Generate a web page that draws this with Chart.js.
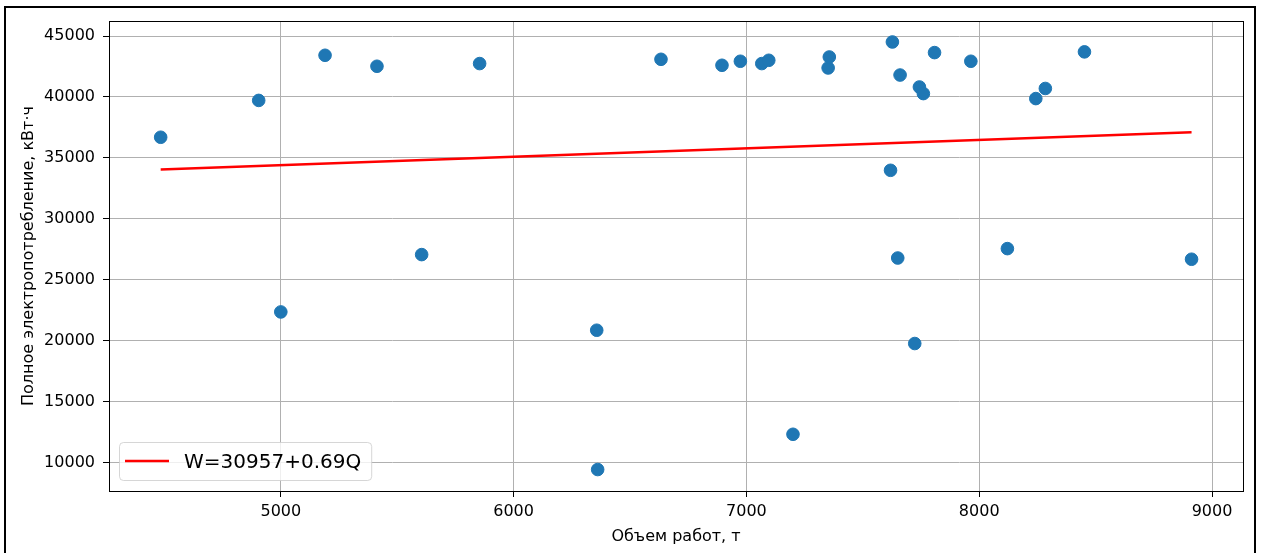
<!DOCTYPE html>
<html>
<head>
<meta charset="utf-8">
<script src="https://cdn.jsdelivr.net/npm/chart.js@4.4.1/dist/chart.umd.min.js"></script>
<style>
  html, body { margin: 0; padding: 0; background: #fff; }
  #wrap { position: relative; width: 1264px; height: 553px; }
</style>
</head>
<body>
<div id="wrap"><canvas id="chart" width="1264" height="553"></canvas></div>
<script>
// volume of work, t  /  total energy use, kWh
const volume = [4484, 4905, 5000, 5190, 5413, 5605, 5854, 6357, 6361, 6633, 6895, 6974, 7066, 7096, 7200, 7351,
                7356, 7619, 7627, 7650, 7660, 7723, 7743, 7760, 7808, 7964, 8121, 8243, 8284, 8452, 8912];
const energy = [36700, 39720, 22380, 43420, 42520, 27080, 42740, 20880, 9460, 43090, 42600, 42930, 42740, 43010, 12350, 42380,
                43280, 33990, 44510, 26800, 41800, 19790, 40820, 40280, 43640, 42930, 27570, 39870, 40700, 43700, 26700];

// regression from the legend
const fitIntercept = 30957;
const fitSlope = 0.69;

const xTicks = [5000, 6000, 7000, 8000, 9000];
const yTicks = [10000, 15000, 20000, 25000, 30000, 35000, 40000, 45000];
const xRange = [4262, 9133];
const yRange = [7700, 46230];

const xLabel = 'Объем работ, т';
const yLabel = 'Полное электропотребление, кВт·ч';
const fitLabel = 'W=' + fitIntercept + '+' + fitSlope + 'Q';

const points = volume.map((v, i) => ({ x: v, y: energy[i] }));
const xMin = Math.min(...volume), xMax = Math.max(...volume);
const fitLine = [xMin, xMax].map(x => ({ x, y: fitIntercept + fitSlope * x }));

const FONT = '"DejaVu Sans", sans-serif';

// white page, axes box, outer frame and the legend inside the plot
const framePlugin = {
  id: 'framePlugin',
  beforeDraw(chart) {
    const ctx = chart.ctx;
    ctx.save();
    ctx.fillStyle = '#fff';
    ctx.fillRect(0, 0, chart.width, chart.height);
    ctx.restore();
  },
  afterDraw(chart) {
    const { ctx, chartArea: a } = chart;
    ctx.save();
    // spines
    ctx.strokeStyle = '#000';
    ctx.lineWidth = 1;
    ctx.strokeRect(a.left + 0.5, a.top + 0.5, a.right - a.left, a.bottom - a.top);
    // outer frame
    ctx.lineWidth = 2;
    ctx.strokeRect(5, 7, 1250, 560);

    // legend
    const ds = chart.data.datasets[1];
    ctx.font = '20px ' + FONT;
    const tw = ctx.measureText(ds.label).width;
    const x0 = a.left + 10, h = 38;
    const y0 = a.bottom - 11 - h;
    const w = 6 + 44 + 15 + tw + 10;
    ctx.beginPath();
    ctx.roundRect(x0 + 0.5, y0 + 0.5, w, h, 4);
    ctx.fillStyle = 'rgba(255,255,255,0.8)';
    ctx.fill();
    ctx.strokeStyle = 'rgba(204,204,204,0.8)';
    ctx.lineWidth = 1;
    ctx.stroke();
    const cy = y0 + h / 2;
    ctx.beginPath();
    ctx.moveTo(x0 + 6, cy);
    ctx.lineTo(x0 + 50, cy);
    ctx.strokeStyle = ds.borderColor;
    ctx.lineWidth = 2.5;
    ctx.stroke();
    ctx.fillStyle = '#000';
    ctx.textBaseline = 'middle';
    ctx.fillText(ds.label, x0 + 65, cy + 1.5);
    ctx.restore();
  }
};

const ctx = document.getElementById('chart').getContext('2d');
new Chart(ctx, {
  type: 'scatter',
  data: {
    datasets: [
      {
        label: 'data',
        data: points,
        backgroundColor: '#1f77b4',
        borderColor: '#1f77b4',
        borderWidth: 1,
        pointRadius: 6.3,
        order: 1
      },
      {
        label: fitLabel,
        data: fitLine,
        showLine: true,
        borderColor: 'red',
        backgroundColor: 'red',
        borderWidth: 2.5,
        pointRadius: 0,
        order: 2
      }
    ]
  },
  options: {
    responsive: false,
    animation: false,
    events: [],
    layout: { padding: { left: 0, top: 21, right: 21, bottom: 0 } },
    plugins: { legend: { display: false }, tooltip: { enabled: false } },
    scales: {
      x: {
        type: 'linear', min: xRange[0], max: xRange[1],
        afterBuildTicks: s => { s.ticks = xTicks.map(v => ({ value: v })); },
        afterFit: s => { s.height = 62; },
        ticks: { color: '#000', padding: 5, font: { family: FONT, size: 16 }, maxRotation: 0, callback: v => String(v) },
        grid: { color: '#b0b0b0', lineWidth: 1, tickColor: '#000', tickLength: 6, tickWidth: 1 },
        border: { display: false },
        title: { display: true, text: xLabel, color: '#000', font: { family: FONT, size: 16 }, padding: { top: 0, bottom: 6.5 } }
      },
      y: {
        type: 'linear', min: yRange[0], max: yRange[1],
        afterBuildTicks: s => { s.ticks = yTicks.map(v => ({ value: v })); },
        afterFit: s => { s.width = 109; },
        ticks: { color: '#000', padding: 8, font: { family: FONT, size: 16 }, callback: v => String(v) },
        grid: { color: '#b0b0b0', lineWidth: 1, tickColor: '#000', tickLength: 6, tickWidth: 1 },
        border: { display: false },
        title: { display: true, text: yLabel, color: '#000', font: { family: FONT, size: 16 }, padding: { top: 19, bottom: 0 } }
      }
    }
  },
  plugins: [framePlugin]
});
</script>
</body>
</html>
